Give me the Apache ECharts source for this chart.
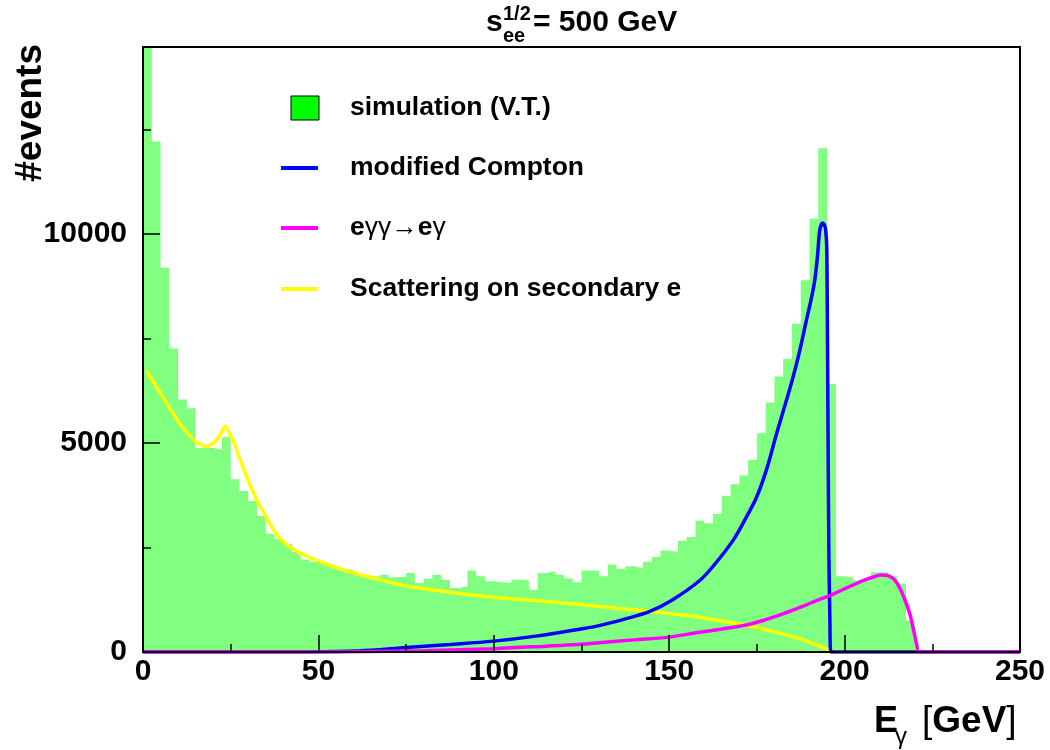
<!DOCTYPE html>
<html><head><meta charset="utf-8">
<script src="https://cdn.jsdelivr.net/npm/echarts@6/dist/echarts.min.js"></script>
<style>html,body{margin:0;padding:0;background:#fff}#c{width:1050px;height:750px}</style>
</head><body><div id="c"></div>
<script>
// ---------- data ----------
const binWidth = 2.5; // GeV, 100 bins from 0 to 250
const histCounts = [
14470, 12210, 9190, 7260, 6040, 5830, 4880, 4880, 4840, 5150,
4130, 3850, 3610, 3260, 2830, 2710, 2590, 2390, 2210, 2160,
2120, 2060, 1990, 1960, 1870, 1830, 1800, 1850, 1790, 1800,
1890, 1650, 1750, 1850, 1730, 1530, 1570, 1950, 1810, 1690,
1670, 1650, 1730, 1710, 1490, 1890, 1930, 1850, 1760, 1670,
1950, 1950, 1810, 2090, 1990, 2050, 2010, 2160, 2270, 2430,
2390, 2660, 2750, 3140, 3080, 3300, 3740, 4010, 4220, 4600,
5230, 5970, 6590, 7010, 7850, 8890, 10360, 12050, 6410, 1810,
1780, 1710, 1710, 1910, 1910, 1810, 1630, 750, 0, 0,
0, 0, 0, 0, 0, 0, 0, 0, 0, 0];

const comptonE = [0,45,55,65,75,87.5,100,112,124,130,137,144.5,151,158.7,163,168.2,171.5,174.9,177.8,180.6,183,185.3,187.2,189.1,190.5,191.5,192.3,192.9,193.4,193.8,194.3,194.6,194.9,195.0,195.1,195.3,195.5,195.8,196.1,250];
const comptonY = [0,0,10,40,110,180,260,380,540,630,780,970,1250,1710,2100,2670,3150,3700,4380,5220,5900,6570,7200,7930,8450,8890,9500,10080,10230,10260,10200,10100,9700,9000,7700,5000,2500,800,0,0];

const eggE = [0,50,60,80,100,115,124,130,140,149.2,158.7,165,171,177,182.4,188,192,195.8,201.5,206,208.5,210.5,212.2,213.8,215,216.2,217.4,218.6,219.6,220.6,221.2,250];
const eggY = [0,0,5,30,80,140,180,220,290,350,470,550,630,760,910,1090,1230,1350,1570,1730,1800,1840,1830,1760,1640,1450,1200,910,550,150,0,0];

const secE = [1,3,5.7,8,10.5,13,15.2,17,18,19.5,20.9,22,23,23.5,24.2,25,25.7,27,28.5,30,32.3,35,38.4,42,46,50,55,61.4,68,75,87.5,100,112,124,136,144.4,158.6,172.9,180,187.1,192,195.7,197,250];
const secY = [6730,6450,6090,5780,5460,5200,5020,4940,4920,4960,5060,5200,5350,5400,5300,5180,5060,4750,4420,4100,3660,3250,2780,2500,2320,2180,2020,1860,1720,1580,1430,1310,1230,1140,1040,970,830,620,480,320,170,40,0,0];

const xMin = 0, xMax = 250, xInterval = 50;
const yMax = 14470;
const yMajorTicks = [0, 5000, 10000];
const yMinorTicks = [2500, 7500, 12500];

const legendNames = ['simulation (V.T.)', 'modified Compton', 'e\u03b3\u03b3\u2192e\u03b3', 'Scattering on secondary e'];

// ---------- chart ----------
const FONT = 'Liberation Sans, Arial, Helvetica, sans-serif';
const chart = echarts.init(document.getElementById('c'), null, {renderer: 'canvas'});

const zip = (xs, ys) => xs.map((x, i) => [x, ys[i]]);
const histData = histCounts.map((v, i) => [i * binWidth, v]);
histData.push([histCounts.length * binWidth, histCounts[histCounts.length - 1]]);

const lineSeries = (name, xs, ys, color, z) => ({
  name, type: 'line', data: zip(xs, ys), showSymbol: false, symbol: 'none',
  smooth: 0.35, clip: true, z,
  lineStyle: {color, width: 3.5}, silent: true
});

const tickStyle = {color: '#000', width: 1.5};
const option = {
  animation: false,
  backgroundColor: '#fff',
  grid: {left: 143, top: 47, width: 877, height: 605, show: false},
  xAxis: [
    {type: 'value', min: xMin, max: xMax, interval: xInterval, position: 'bottom', z: 10,
     axisLine: {show: true, onZero: false, lineStyle: {color: '#000', width: 2}},
     axisTick: {show: true, inside: true, length: 17, lineStyle: tickStyle},
     minorTick: {show: true, splitNumber: 2, length: 8, lineStyle: tickStyle},
     splitLine: {show: false}, minorSplitLine: {show: false},
     axisLabel: {color: '#000', fontFamily: FONT, fontWeight: 'bold', fontSize: 30, margin: 5,
                 formatter: v => String(v)}},
    {type: 'value', min: xMin, max: xMax, position: 'top', z: 10,
     axisLine: {show: true, onZero: false, lineStyle: {color: '#000', width: 2}},
     axisTick: {show: false}, axisLabel: {show: false}, splitLine: {show: false}}
  ],
  yAxis: [
    {type: 'value', min: 0, max: yMax, position: 'left', z: 10,
     axisLine: {show: true, onZero: false, lineStyle: {color: '#000', width: 2}},
     axisTick: {show: true, inside: true, length: 17, lineStyle: tickStyle, customValues: yMajorTicks},
     axisLabel: {color: '#000', fontFamily: FONT, fontWeight: 'bold', fontSize: 30, margin: 16,
                 customValues: yMajorTicks, formatter: v => String(v)},
     splitLine: {show: false}},
    {type: 'value', min: 0, max: yMax, position: 'left', z: 10,
     axisLine: {show: false},
     axisTick: {show: true, inside: true, length: 8, lineStyle: tickStyle, customValues: yMinorTicks},
     axisLabel: {show: false}, splitLine: {show: false}},
    {type: 'value', min: 0, max: yMax, position: 'right', z: 10,
     axisLine: {show: true, onZero: false, lineStyle: {color: '#000', width: 2}},
     axisTick: {show: false}, axisLabel: {show: false}, splitLine: {show: false}}
  ],
  series: [
    {name: legendNames[0], type: 'line', step: 'end', data: histData, showSymbol: false, symbol: 'none',
     clip: true, z: 1, silent: true,
     lineStyle: {width: 0, opacity: 0},
     areaStyle: {color: '#80ff80', opacity: 1, origin: 'start'}},
    lineSeries(legendNames[1], comptonE, comptonY, '#0000ff', 3),
    lineSeries(legendNames[2], eggE, eggY, '#ff00ff', 4),
    lineSeries(legendNames[3], secE, secY, '#ffff00', 2)
  ],
  graphic: [
    // title  s_ee^{1/2}= 500 GeV
    {type: 'text', x: 486, y: 23, z: 100, style: {text: 's', font: 'bold 30px ' + FONT, fill: '#000', verticalAlign: 'middle'}},
    {type: 'text', x: 503, y: 14, z: 100, style: {text: '1/2', font: 'bold 20px ' + FONT, fill: '#000', verticalAlign: 'middle'}},
    {type: 'text', x: 503, y: 36, z: 100, style: {text: 'ee', font: 'bold 20px ' + FONT, fill: '#000', verticalAlign: 'middle'}},
    {type: 'text', x: 533, y: 23, z: 100, style: {text: '= 500 GeV', font: 'bold 30px ' + FONT, fill: '#000', verticalAlign: 'middle'}},
    // y axis title
    {type: 'text', x: 31, y: 44, rotation: Math.PI / 2, z: 100,
     style: {text: '#events', font: 'bold 37px ' + FONT, fill: '#000', align: 'right', verticalAlign: 'middle'}},
    // x axis title
    {type: 'text', x: 874, y: 722, z: 100, style: {text: 'E', font: 'bold 36px ' + FONT, fill: '#000', verticalAlign: 'middle'}},
    {type: 'text', x: 895, y: 737, z: 100, style: {text: '\u03b3', font: '24px ' + FONT, fill: '#000', verticalAlign: 'middle'}},
    {type: 'text', x: 922, y: 722, z: 100, style: {
      text: '{n|[}{b|GeV}{n|]}', fill: '#000', verticalAlign: 'middle',
      rich: {n: {font: '37px ' + FONT, fill: '#000'}, b: {font: 'bold 37px ' + FONT, fill: '#000'}}}},
    // legend
    {type: 'rect', z: 100, shape: {x: 291, y: 96, width: 28, height: 24}, style: {fill: '#00ff00', stroke: '#000', lineWidth: 1}},
    {type: 'line', z: 100, shape: {x1: 281, y1: 168, x2: 318, y2: 168}, style: {stroke: '#0000ff', lineWidth: 4}},
    {type: 'line', z: 100, shape: {x1: 281, y1: 228, x2: 318, y2: 228}, style: {stroke: '#ff00ff', lineWidth: 4}},
    {type: 'line', z: 100, shape: {x1: 281, y1: 289, x2: 318, y2: 289}, style: {stroke: '#ffff00', lineWidth: 4}},
    {type: 'text', x: 350, y: 108, z: 100, style: {text: legendNames[0], font: 'bold 26.5px ' + FONT, fill: '#000', verticalAlign: 'middle'}},
    {type: 'text', x: 350, y: 168, z: 100, style: {text: legendNames[1], font: 'bold 26.5px ' + FONT, fill: '#000', verticalAlign: 'middle'}},
    {type: 'text', x: 350, y: 228, z: 100, style: {
      text: '{b|e}{n|\u03b3\u03b3\u2192}{b|e}{n|\u03b3}', fill: '#000', verticalAlign: 'middle',
      rich: {b: {font: 'bold 26.5px ' + FONT, fill: '#000'}, n: {font: '26.5px ' + FONT, fill: '#000'}}}},
    {type: 'text', x: 350, y: 289, z: 100, style: {text: legendNames[3], font: 'bold 26.5px ' + FONT, fill: '#000', verticalAlign: 'middle'}}
  ]
};
chart.setOption(option);
</script>
</body></html>
